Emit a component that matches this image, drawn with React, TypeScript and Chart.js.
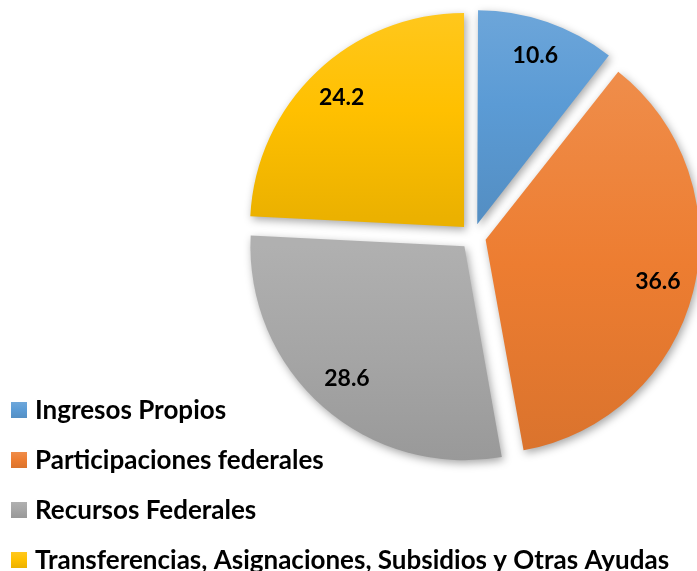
import React, { useEffect, useRef } from "react";
import { Chart, registerables } from "chart.js";

Chart.register(...registerables);

const categories = [
  "Ingresos Propios",
  "Participaciones federales",
  "Recursos Federales",
  "Transferencias, Asignaciones, Subsidios y Otras Ayudas",
];
const values = [10.6, 36.6, 28.6, 24.2];
const valueLabels = ["10.6", "36.6", "28.6", "24.2"];
const baseColors = ["#5B9BD5", "#ED7D31", "#A5A5A5", "#FFC000"];

const RADIUS = 214;
const EXPLODE = 13;
const FONT = "Lato, 'Noto Sans', sans-serif";

function mix(hex: string, amt: number): string {
  const n = parseInt(hex.slice(1), 16);
  let r = (n >> 16) & 255, g = (n >> 8) & 255, b = n & 255;
  const t = amt > 0 ? 255 : 0;
  const a = Math.abs(amt);
  r = Math.round(r + (t - r) * a);
  g = Math.round(g + (t - g) * a);
  b = Math.round(b + (t - b) * a);
  return `rgb(${r},${g},${b})`;
}

function sliceGradient(ctx: CanvasRenderingContext2D, color: string, top: number, bottom: number) {
  const g = ctx.createLinearGradient(0, top, 0, bottom);
  g.addColorStop(0, mix(color, 0.12));
  g.addColorStop(0.5, color);
  g.addColorStop(1, mix(color, -0.08));
  return g;
}

// Chart.js enlarges narrow exploded slices (radius fix); undo it so every slice has the same radius
const radiusFixPlugin = {
  id: "radiusFix",
  beforeDatasetDraw(chart: any) {
    const meta = chart.getDatasetMeta(0);
    meta.data.forEach((arc: any) => {
      const circ = arc.circumference || 0;
      const fix = 1 - Math.sin(Math.min(Math.PI, circ));
      arc._savedOuter = arc.outerRadius;
      arc.outerRadius = arc.outerRadius - EXPLODE * fix;
    });
  },
  afterDatasetDraw(chart: any) {
    const meta = chart.getDatasetMeta(0);
    meta.data.forEach((arc: any) => {
      if (arc._savedOuter !== undefined) arc.outerRadius = arc._savedOuter;
    });
  },
};

const shadowPlugin = {
  id: "sliceShadow",
  beforeDatasetsDraw(chart: any) {
    const ctx = chart.ctx as CanvasRenderingContext2D;
    ctx.save();
    ctx.shadowColor = "rgba(0,0,0,0.35)";
    ctx.shadowBlur = 8;
    ctx.shadowOffsetX = 2;
    ctx.shadowOffsetY = 3;
  },
  afterDatasetsDraw(chart: any) {
    chart.ctx.restore();
  },
};

const labelPlugin = {
  id: "sliceLabels",
  afterDatasetsDraw(chart: any) {
    const ctx = chart.ctx as CanvasRenderingContext2D;
    const meta = chart.getDatasetMeta(0);
    ctx.save();
    ctx.font = `bold 23px ${FONT}`;
    ctx.fillStyle = "#000";
    ctx.textAlign = "center";
    ctx.textBaseline = "middle";
    meta.data.forEach((arc: any, i: number) => {
      const { x, y, startAngle, endAngle, outerRadius } = arc.getProps(
        ["x", "y", "startAngle", "endAngle", "outerRadius"],
        true
      );
      const mid = (startAngle + endAngle) / 2;
      const d = EXPLODE + outerRadius * 0.83;
      ctx.fillText(valueLabels[i], x + Math.cos(mid) * d, y + Math.sin(mid) * d - 1);
    });
    ctx.restore();
  },
};

const legendPlugin = {
  id: "leftLegend",
  afterDraw(chart: any) {
    const ctx = chart.ctx as CanvasRenderingContext2D;
    ctx.save();
    ctx.font = `bold 26px ${FONT}`;
    ctx.textBaseline = "middle";
    categories.forEach((name, i) => {
      const cy = 410 + i * 50;
      ctx.fillStyle = sliceGradient(ctx, baseColors[i], cy - 8, cy + 8);
      ctx.fillRect(11, cy - 8, 16, 16);
      ctx.fillStyle = "#000";
      ctx.fillText(name, 35, cy + 1);
    });
    ctx.restore();
  },
};

export default function App() {
  const canvasRef = useRef<HTMLCanvasElement | null>(null);

  useEffect(() => {
    const canvas = canvasRef.current;
    if (!canvas) return;
    const total = values.reduce((a, b) => a + b, 0);

    const chart = new Chart(canvas, {
      type: "pie",
      data: {
        labels: categories,
        datasets: [
          {
            data: values,
            backgroundColor: (c: any) => {
              const chartObj = c.chart;
              const area = chartObj.chartArea;
              const i = c.dataIndex;
              const color = baseColors[i] ?? "#999";
              if (!area || i === undefined) return color;
              const cx = (area.left + area.right) / 2;
              const cy = (area.top + area.bottom) / 2;
              let acc = 0;
              for (let k = 0; k < i; k++) acc += values[k];
              const a0 = -Math.PI / 2 + (acc / total) * Math.PI * 2;
              const a1 = a0 + (values[i] / total) * Math.PI * 2;
              const mid = (a0 + a1) / 2;
              const oy = cy + Math.sin(mid) * EXPLODE;
              let top = oy, bottom = oy;
              for (let s = 0; s <= 60; s++) {
                const t = a0 + ((a1 - a0) * s) / 60;
                const py = oy + Math.sin(t) * RADIUS;
                top = Math.min(top, py);
                bottom = Math.max(bottom, py);
              }
              return sliceGradient(chartObj.ctx, color, top, bottom);
            },
            borderWidth: 0,
            offset: EXPLODE * 4,
            clip: false as any,
          },
        ],
      },
      options: {
        responsive: false,
        maintainAspectRatio: false,
        animation: false,
        radius: RADIUS,
        layout: { padding: { left: 249, right: 0, top: 0, bottom: 98 } },
        plugins: {
          legend: { display: false },
          tooltip: { enabled: false },
          title: { display: false },
        },
      } as any,
      plugins: [radiusFixPlugin, shadowPlugin, labelPlugin, legendPlugin],
    });

    return () => chart.destroy();
  }, []);

  return (
    <div style={{ position: "absolute", left: 0, top: 0, width: 697, height: 571, background: "#fff" }}>
      <canvas ref={canvasRef} width={697} height={571} style={{ display: "block" }} />
    </div>
  );
}
